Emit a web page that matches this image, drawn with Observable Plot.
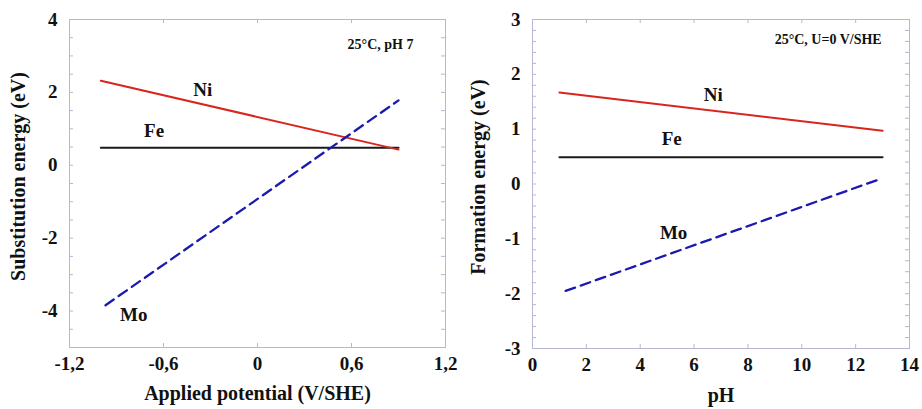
<!DOCTYPE html>
<html>
<head>
<meta charset="utf-8">
<script src="https://cdn.jsdelivr.net/npm/d3@7"></script>
<script src="https://cdn.jsdelivr.net/npm/@observablehq/plot@0.6"></script>
<style>
  html, body { margin: 0; padding: 0; background: #fff; }
  #wrap { display: flex; width: 922px; height: 409px; }
  #wrap svg, #wrap svg text { font-family: 'Liberation Serif', 'Times New Roman', 'DejaVu Serif', serif !important; font-weight: bold !important; }
</style>
</head>
<body>
<div id="wrap"></div>
<script>
// ---------- Left panel data (Applied potential vs substitution energy) ----------
const leftNiPotential = [-1.0, 0.9];
const leftNiEnergy = [2.32, 0.43];
const leftFePotential = [-1.0, 0.9];
const leftFeEnergy = [0.48, 0.48];
const leftMoPotential = [-0.97, 0.9];
const leftMoEnergy = [-3.84, 1.78];
const leftXTicks = [-1.2, -0.6, 0, 0.6, 1.2];
const leftXTickLabels = ["-1,2", "-0,6", "0", "0,6", "1,2"];
const leftYTicks = [4, 2, 0, -2, -4];
const leftYTickLabels = ["4", "2", "0", "-2", "-4"];
const leftLabels = ["Ni", "Fe", "Mo"];
const leftLabelX = [-0.35, -0.66, -0.79];
const leftLabelY = [2.08, 0.95, -4.1];
const leftCondition = "25°C, pH 7";

// ---------- Right panel data (pH vs formation energy) ----------
const rightNiPH = [1, 13];
const rightNiEnergy = [1.67, 0.97];
const rightFePH = [1, 13];
const rightFeEnergy = [0.49, 0.49];
const rightMoPH = [1.23, 12.85];
const rightMoEnergy = [-1.95, 0.08];
const rightXTicks = [0, 2, 4, 6, 8, 10, 12, 14];
const rightXTickLabels = ["0", "2", "4", "6", "8", "10", "12", "14"];
const rightYTicks = [3, 2, 1, 0, -1, -2, -3];
const rightYTickLabels = ["3", "2", "1", "0", "-1", "-2", "-3"];
const rightLabels = ["Ni", "Fe", "Mo"];
const rightLabelX = [6.71, 5.17, 5.24];
const rightLabelY = [1.63, 0.83, -0.9];
const rightCondition = "25°C, U=0 V/SHE";

const FONT = "'Liberation Serif', 'Times New Roman', serif";
const FRAME = "#b7b7d6";
const RED = "#d8261f";
const BLUE = "#1a1ab0";
const BLACK = "#1a1a1a";

function toRows(xs, ys) { return xs.map((x, i) => ({x, y: ys[i]})); }
function lookup(ticks, labels) {
  return d => labels[ticks.findIndex(v => Math.abs(v - d) < 1e-9)];
}

function panel(cfg) {
  const W = 461, H = 409;
  const innerW = W - cfg.ml - cfg.mr;
  const innerH = H - cfg.mt - cfg.mb;
  const len = 4;
  const labels = cfg.labels.map((t, i) => ({t, x: cfg.labelX[i], y: cfg.labelY[i]}));
  const txt = {fontWeight: "bold", fontFamily: FONT, fill: "#111"};
  return Plot.plot({
    width: W, height: H,
    marginLeft: cfg.ml, marginRight: cfg.mr, marginTop: cfg.mt, marginBottom: cfg.mb,
    style: {fontFamily: FONT, fontWeight: "bold", background: "#fff", overflow: "visible"},
    x: {domain: cfg.xDomain},
    y: {domain: cfg.yDomain},
    marks: [
      Plot.frame({stroke: FRAME, strokeWidth: 1}),
      Plot.tickY(cfg.yMinor, {y: d => d, stroke: FRAME, insetRight: innerW - len}),
      Plot.tickY(cfg.yMinor, {y: d => d, stroke: FRAME, insetLeft: innerW - len}),
      Plot.tickX(cfg.xMinor, {x: d => d, stroke: FRAME, insetTop: innerH - len}),
      Plot.tickX(cfg.xMinor, {x: d => d, stroke: FRAME, insetBottom: innerH - len}),
      Plot.axisX(cfg.xTicks, {tickSize: 0, tickPadding: 9, label: null, fontSize: 19, ...txt, tickFormat: cfg.xFormat}),
      Plot.axisY(cfg.yTicks, {tickSize: 0, tickPadding: 12, label: null, fontSize: 19, ...txt, tickFormat: cfg.yFormat}),
      Plot.line(toRows(cfg.fe[0], cfg.fe[1]), {x: "x", y: "y", stroke: BLACK, strokeWidth: 2}),
      Plot.line(toRows(cfg.ni[0], cfg.ni[1]), {x: "x", y: "y", stroke: RED, strokeWidth: 2}),
      Plot.line(toRows(cfg.mo[0], cfg.mo[1]), {x: "x", y: "y", stroke: BLUE, strokeWidth: 2.3, strokeDasharray: "10,6"}),
      Plot.text(labels, {x: "x", y: "y", text: "t", fontSize: 19, ...txt}),
      Plot.text([cfg.condition], {x: cfg.condX, y: cfg.condY, text: d => d, fontSize: 14, ...txt}),
      Plot.text([cfg.xLabel], {frameAnchor: "bottom", dy: cfg.xLabelDy, text: d => d, fontSize: 20, ...txt}),
      Plot.text([cfg.yLabel], {frameAnchor: "left", textAnchor: "middle", dx: cfg.yLabelDx, dy: -7, rotate: -90, text: d => d, fontSize: 20, ...txt})
    ]
  });
}

const left = panel({
  ml: 69, mr: 16, mt: 19, mb: 62,
  xDomain: [-1.2, 1.2], yDomain: [-5, 4],
  xTicks: leftXTicks, yTicks: leftYTicks,
  xMinor: leftXTicks, yMinor: d3.range(-5, 4.001, 0.5),
  xFormat: lookup(leftXTicks, leftXTickLabels),
  yFormat: lookup(leftYTicks, leftYTickLabels),
  ni: [leftNiPotential, leftNiEnergy], fe: [leftFePotential, leftFeEnergy], mo: [leftMoPotential, leftMoEnergy],
  labels: leftLabels, labelX: leftLabelX, labelY: leftLabelY,
  condition: leftCondition, condX: 0.785, condY: 3.31,
  xLabel: "Applied potential (V/SHE)", xLabelDy: 52,
  yLabel: "Substitution energy (eV)", yLabelDx: -51
});

const right = panel({
  ml: 71, mr: 13, mt: 19, mb: 61,
  xDomain: [0, 14], yDomain: [-3, 3],
  xTicks: rightXTicks, yTicks: rightYTicks,
  xMinor: rightXTicks, yMinor: d3.range(-3, 3.001, 0.2),
  xFormat: lookup(rightXTicks, rightXTickLabels),
  yFormat: lookup(rightYTicks, rightYTickLabels),
  ni: [rightNiPH, rightNiEnergy], fe: [rightFePH, rightFeEnergy], mo: [rightMoPH, rightMoEnergy],
  labels: rightLabels, labelX: rightLabelX, labelY: rightLabelY,
  condition: rightCondition, condX: 10.98, condY: 2.635,
  xLabel: "pH", xLabelDy: 53,
  yLabel: "Formation energy (eV)", yLabelDx: -54
});

document.getElementById("wrap").append(left, right);
</script>
</body>
</html>
